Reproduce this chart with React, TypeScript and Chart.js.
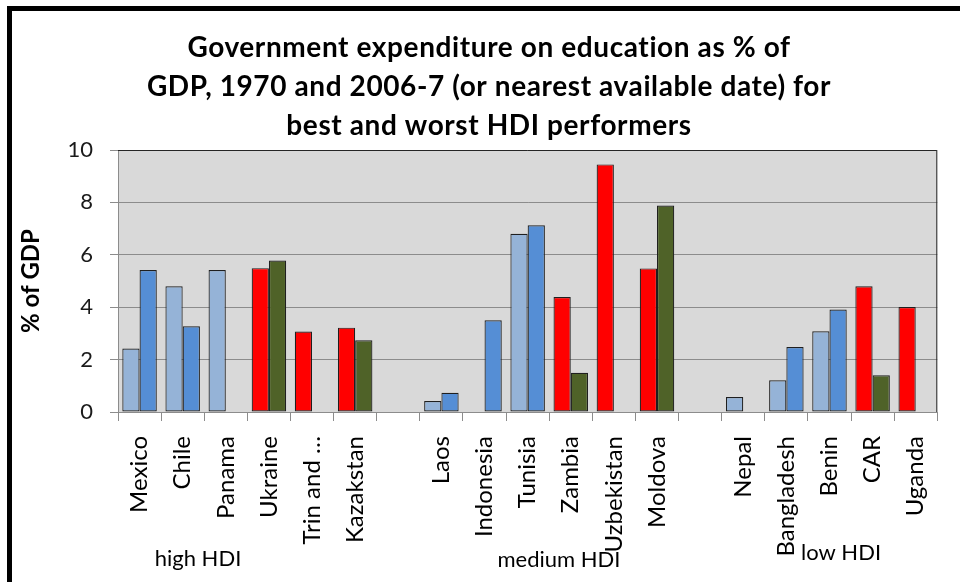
import React, { useEffect, useRef } from "react";
import { Chart, registerables } from "chart.js";

Chart.register(...registerables);

const categories = [
  "Mexico", "Chile", "Panama", "Ukraine", "Trin and …", "Kazakstan", "",
  "Laos", "Indonesia", "Tunisia", "Zambia", "Uzbekistan", "Moldova", "",
  "Nepal", "Bangladesh", "Benin", "CAR", "Uganda",
];

// "best" = best HDI performers (blue shades), "worst" = worst performers (red / green)
const performer = [
  "best", "best", "best", "worst", "worst", "worst", "",
  "best", "best", "best", "worst", "worst", "worst", "",
  "best", "best", "best", "worst", "worst",
];

const values1970: (number | null)[] = [
  2.42, 4.8, 5.42, 5.49, 3.07, 3.22, null,
  0.42, null, 6.8, 4.39, 9.45, 5.48, null,
  0.57, 1.21, 3.08, 4.8, 4.01,
];

const values2006: (number | null)[] = [
  5.42, 3.27, null, 5.78, null, 2.74, null,
  0.73, 3.5, 7.13, 1.5, null, 7.88, null,
  null, 2.48, 3.91, 1.4, null,
];

const yTicks = [0, 2, 4, 6, 8, 10];

const titleLines = [
  "Government expenditure on education as % of",
  "GDP, 1970 and 2006-7 (or nearest available date) for",
  "best and worst HDI performers",
];
const yTitle = "% of GDP";
const groupLabels = ["high HDI", "medium HDI", "low HDI"];

const FONT = "Lato, 'Open Sans', sans-serif";

const colors1970 = performer.map((p) => (p === "worst" ? "#FF0000" : "#95B3D7"));
const colors2006 = performer.map((p) => (p === "worst" ? "#4F6228" : "#558ED5"));

const decorPlugin = {
  id: "decor",
  beforeDraw(chart: any) {
    const { ctx, chartArea } = chart;
    ctx.save();
    ctx.fillStyle = "#ffffff";
    ctx.fillRect(0, 0, chart.width, chart.height);
    ctx.fillStyle = "#D9D9D9";
    ctx.fillRect(chartArea.left, chartArea.top, chartArea.right - chartArea.left, chartArea.bottom - chartArea.top);
    // outer frame (left and top edges visible)
    ctx.fillStyle = "#000000";
    ctx.fillRect(7, 6, chart.width - 7, 5);
    ctx.fillRect(7, 6, 5, chart.height - 6);
    ctx.restore();
  },
  afterDraw(chart: any) {
    const { ctx, chartArea } = chart;
    ctx.save();
    // plot area border top/right
    ctx.strokeStyle = "#262626";
    ctx.lineWidth = 1;
    ctx.beginPath();
    ctx.moveTo(chartArea.left, chartArea.top + 0.5);
    ctx.lineTo(chartArea.right - 0.5, chartArea.top + 0.5);
    ctx.lineTo(chartArea.right - 0.5, chartArea.bottom);
    ctx.stroke();

    // title
    ctx.fillStyle = "#000000";
    ctx.textAlign = "center";
    ctx.textBaseline = "middle";
    ctx.font = `bold 28px ${FONT}`;
    (ctx as any).letterSpacing = "0.6px";
    const tys = [48, 87, 126];
    titleLines.forEach((t, i) => ctx.fillText(t, 489, tys[i]));
    (ctx as any).letterSpacing = "0px";

    // y title
    ctx.save();
    ctx.translate(31, (chartArea.top + chartArea.bottom) / 2);
    ctx.rotate(-Math.PI / 2);
    ctx.font = `bold 24px ${FONT}`;
    ctx.fillText(yTitle, 0, 0);
    ctx.restore();

    // group labels
    ctx.font = `22px ${FONT}`;
    const gpos = [
      [198, 559],
      [559, 560],
      [841, 553],
    ];
    groupLabels.forEach((g, i) => ctx.fillText(g, gpos[i][0], gpos[i][1]));
    ctx.restore();
  },
};

export default function App() {
  const ref = useRef<HTMLCanvasElement>(null);

  useEffect(() => {
    if (!ref.current) return;
    const chart = new Chart(ref.current, {
      type: "bar",
      data: {
        labels: categories,
        datasets: [
          {
            label: "1970",
            data: values1970,
            backgroundColor: colors1970,
            borderColor: "#1f1f1f",
            borderWidth: 1.2,
            borderSkipped: false,
            categoryPercentage: 0.8,
            barPercentage: 1.0,
          },
          {
            label: "2006-7",
            data: values2006,
            backgroundColor: colors2006,
            borderColor: "#1f1f1f",
            borderWidth: 1.2,
            borderSkipped: false,
            categoryPercentage: 0.8,
            barPercentage: 1.0,
          },
        ],
      },
      options: {
        responsive: false,
        animation: false,
        devicePixelRatio: 1,
        layout: { padding: { left: 8, top: 150, right: 18, bottom: 0 } },
        plugins: {
          legend: { display: false },
          tooltip: { enabled: false },
          title: { display: false },
        },
        scales: {
          x: {
            grid: {
              drawOnChartArea: false,
              drawTicks: true,
              tickLength: 9,
              color: "#8c8c8c",
              offset: true,
            },
            border: { color: "#8c8c8c", width: 1 },
            ticks: {
              autoSkip: false,
              maxRotation: 90,
              minRotation: 90,
              padding: 15,
              color: "#000000",
              font: { family: FONT, size: 24 },
            },
            afterFit(scale: any) {
              scale.height = 170;
            },
          },
          y: {
            min: 0,
            max: 10,
            afterBuildTicks(scale: any) {
              scale.ticks = yTicks.map((v) => ({ value: v }));
            },
            grid: {
              color: "#8c8c8c",
              lineWidth: 1,
              drawTicks: true,
              tickLength: 8,
            },
            border: { color: "#8c8c8c", width: 1 },
            ticks: {
              padding: 17,
              color: "#1a1a1a",
              font: { family: FONT, size: 22 },
            },
            afterFit(scale: any) {
              scale.width = 110;
            },
          },
        },
      },
      plugins: [decorPlugin],
    });
    return () => chart.destroy();
  }, []);

  return (
    <div style={{ position: "fixed", left: 0, top: 0, width: 960, height: 582, background: "#fff" }}>
      <canvas ref={ref} width={960} height={582} style={{ display: "block" }} />
    </div>
  );
}
